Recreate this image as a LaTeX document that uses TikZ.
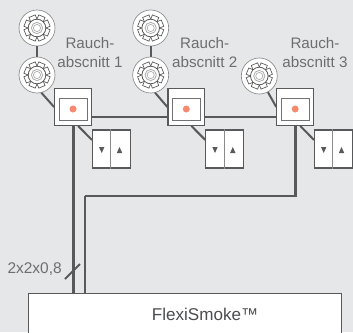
\documentclass[tikz,border=0pt]{standalone}
\usepackage{fontspec}
\setmainfont{Liberation Sans}
\definecolor{bggray}{HTML}{E6E7E8}
\definecolor{wiregray}{HTML}{58595B}
\definecolor{txtgray}{HTML}{6D6E71}
\definecolor{dotred}{HTML}{F58A70}
\tikzset{
  wire/.style={draw=wiregray,line width=1.9pt},
  thinwire/.style={draw=wiregray,line width=1.5pt},
  detector/.style={circle,draw=wiregray!70,fill=white,line width=0.5pt,minimum size=27pt,inner sep=0pt},
  ctrlbox/.style={rectangle,draw=wiregray,fill=white,line width=0.9pt,minimum size=27.5pt,inner sep=0pt},
  ctrlinner/.style={rectangle,draw=wiregray!85,fill=white,line width=0.7pt,minimum width=21pt,minimum height=16.5pt,inner sep=0pt},
  switchbox/.style={rectangle,draw=wiregray,fill=white,line width=0.9pt,minimum size=28.5pt,inner sep=0pt},
  label/.style={text=txtgray,font=\fontsize{11.4}{14.2}\selectfont,align=center,inner sep=0pt}
}
\newcommand{\gearicon}[1]{%
  \begin{scope}[shift={(#1)}]
  \foreach \a in {0,45,...,315}
    \draw[wiregray,line width=0.5pt,fill=white,rotate=\a+22.5] (-3.4,-12.8) rectangle (3.4,-7);
  \draw[wiregray,line width=0.6pt,fill=white] (0,0) circle (8.8);
  \draw[wiregray!50,line width=0.6pt] (0,0) circle (5.6);
  \draw[wiregray!50,line width=0.5pt] (0,0) circle (3.6);
  \end{scope}
}
\begin{document}
\begin{tikzpicture}[x=0.75pt,y=-0.75pt]
\fill[bggray] (0,0) rectangle (353,332);
\useasboundingbox (0,0) rectangle (353,332);
% control boxes
\node[ctrlbox] (ctrl1) at (73,107) {};
\node[ctrlbox] (ctrl2) at (186.3,107) {};
\node[ctrlbox] (ctrl3) at (295.2,107) {};
% switches
\node[switchbox] (sw1) at (111.5,149) {};
\node[switchbox] (sw2) at (224.8,149) {};
\node[switchbox] (sw3) at (333.5,149) {};
% main unit
\node[draw=wiregray,fill=white,line width=0.8pt,minimum width=235pt,minimum height=40pt,inner sep=0pt,anchor=north west] (unit) at (27.5,293) {};
\node[text=txtgray!70!black,font=\fontsize{12.8}{15}\selectfont,inner sep=0pt] (unitlabel) at (205,314.5) {FlexiSmoke™};
% detectors
\node[detector] (det1a) at (37,28) {};
\node[detector] (det1b) at (37,75) {};
\node[detector] (det2a) at (150.7,28) {};
\node[detector] (det2b) at (150.7,75) {};
\node[detector] (det3) at (259.3,76) {};
\foreach \n in {det1a,det1b,det2a,det2b,det3}
  \gearicon{\n};
% inside of the boxes
\foreach \n in {1,2,3} {
  \node[ctrlinner] (inner\n) at ([yshift=-1.5pt]ctrl\n) {};
  \fill[dotred] (inner\n) circle (3.5);
  \coordinate (divtop\n) at ([xshift=-0.5pt]sw\n.north);
  \coordinate (divbot\n) at ([xshift=-0.5pt]sw\n.south);
  \draw[wiregray!70,line width=0.8pt] (divtop\n) -- (divbot\n);
  \fill[wiregray] ([shift={(-9.8,4)}]sw\n.center) -- ++(-2.7,-6) -- ++(5.4,0) -- cycle;
  \fill[wiregray] ([shift={(8,-2)}]sw\n.center) -- ++(-2.7,6) -- ++(5.4,0) -- cycle;
}
% labels
\node[label] (zone1) at (90,53) {Rauch-\\abscnitt 1};
\node[label] (zone2) at (204.7,53) {Rauch-\\abscnitt 2};
\node[label] (zone3) at (315,53) {Rauch-\\abscnitt 3};
\node[label,font=\fontsize{11.6}{14}\selectfont,anchor=east] (cable) at (62,269) {2x2x0,8};
\coordinate (wa) at (73.7,293);
\coordinate (wb) at (85,293);
\coordinate (wc) at (85,196);
\coordinate (wd) at (295.7,196);
\coordinate (ta) at (65,279);
\coordinate (tb) at (80,264);
% wires
\draw[thinwire] (det1a) -- (det1b);
\draw[thinwire] (det2a) -- (det2b);
\draw[thinwire] (det1b.-76) -- (ctrl1.west);
\draw[thinwire] (det2b.-76) -- (ctrl2.west);
\draw[thinwire] (det3.-62) -- (ctrl3.west);
\draw[thinwire] (ctrl1.-75) -- (sw1.155);
\draw[thinwire] (ctrl2.-75) -- (sw2.155);
\draw[thinwire] (ctrl3.-75) -- (sw3.155);
\draw[wire] (ctrl1.south -| wa) -- (wa);
\draw[wire] (wc) -- (wb);
\draw[wire] (wc) -- (wd) -- (ctrl3.south -| wd);
\draw[wire] (ctrl1.east |- 0,117) -- (ctrl2.west |- 0,117);
\draw[wire] (ctrl2.east |- 0,117) -- (ctrl3.west |- 0,117);
\draw[thinwire] (ta) -- (tb);
\end{tikzpicture}
\end{document}
